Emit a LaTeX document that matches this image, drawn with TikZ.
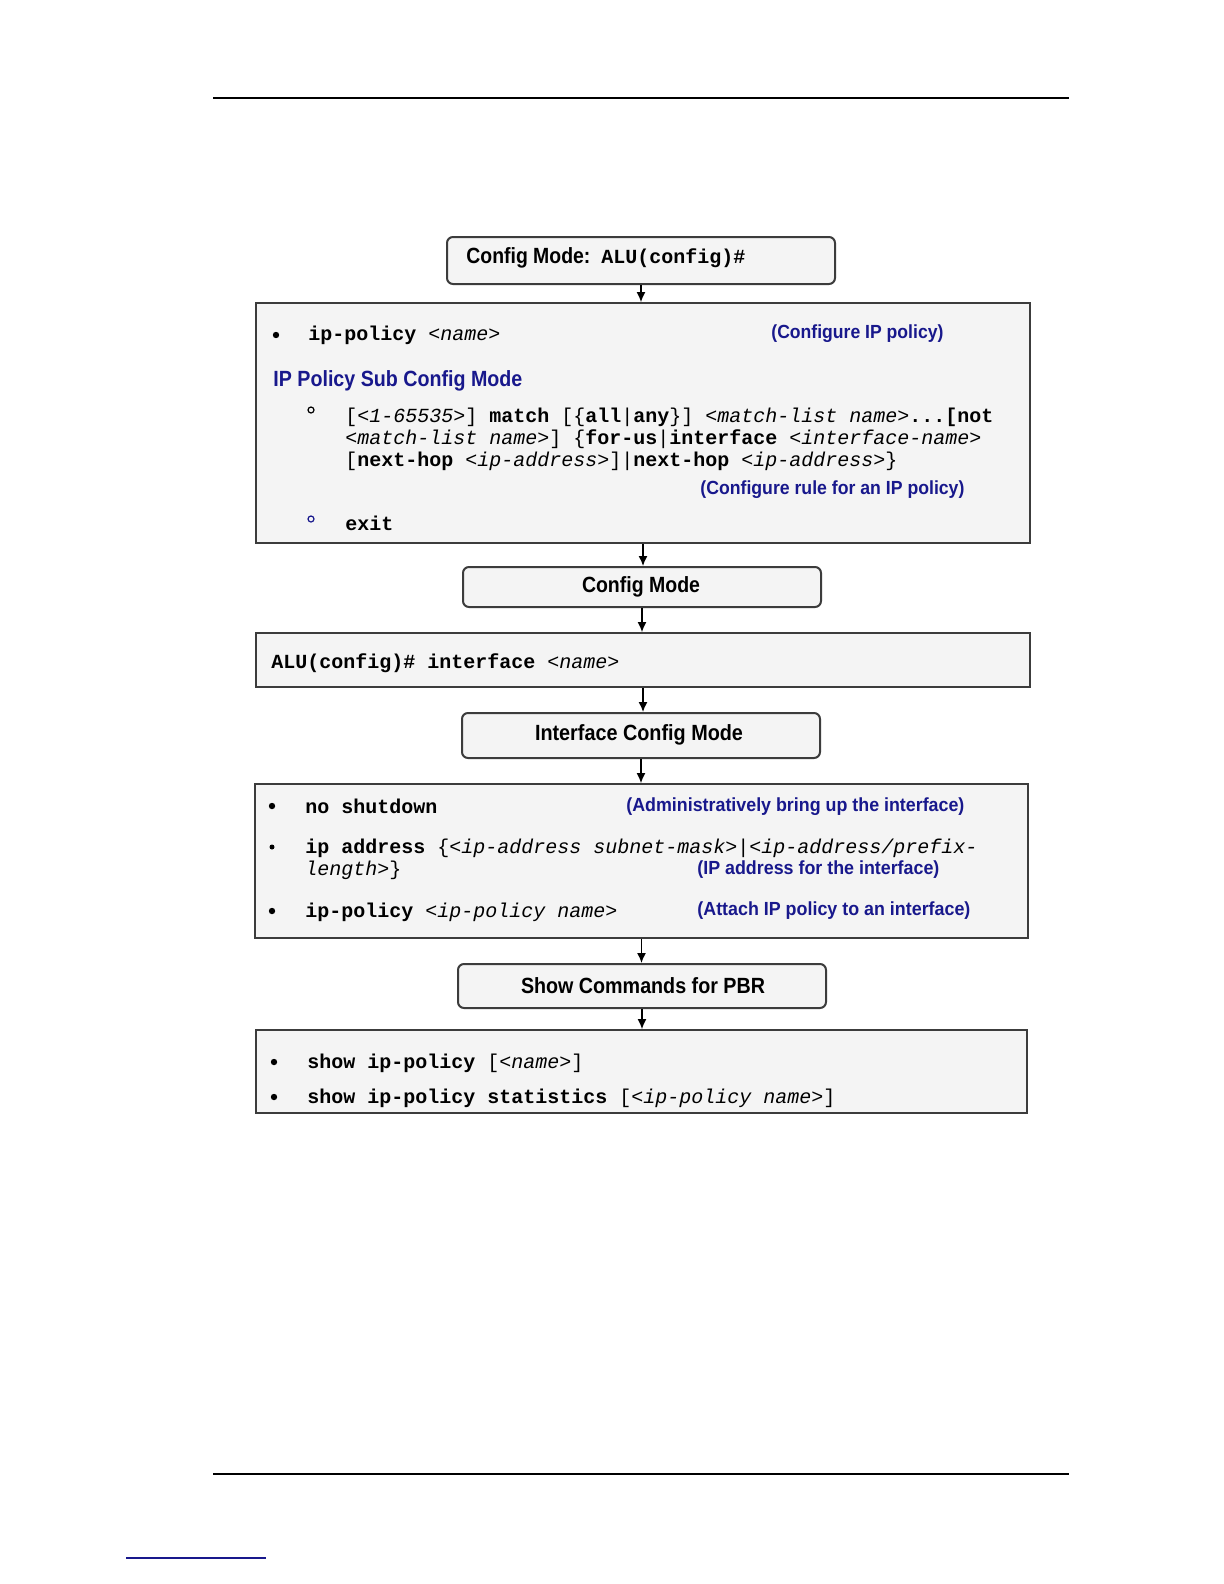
\documentclass[tikz,border=0pt]{standalone}
\usepackage{fontspec}
\usepackage{graphicx}
\setmainfont{Liberation Sans}
\setmonofont{Liberation Mono}
\usetikzlibrary{arrows.meta}
\definecolor{annot}{RGB}{24,24,140}
\definecolor{boxfill}{RGB}{244,244,244}
\definecolor{boxline}{RGB}{60,60,60}
\newcommand{\fitw}[2]{\resizebox{#1}{\height}{#2}}
\newcommand{\kw}[1]{\textbf{#1}}
\newcommand{\prm}[1]{\textit{#1}}
\tikzset{
  rbox/.style={draw=boxline, line width=1pt, fill=boxfill, rounded corners=3pt, inner sep=0pt},
  sbox/.style={draw=boxline, line width=0.9pt, fill=boxfill, inner sep=0pt},
  cmd/.style={anchor=mid west, inner sep=0pt, font=\ttfamily\fontsize{10}{12}\selectfont},
  note/.style={anchor=mid west, inner sep=0pt, text=annot, font=\bfseries\fontsize{9.5}{11}\selectfont},
  ttl/.style={inner sep=0pt, font=\bfseries\fontsize{11}{13}\selectfont},
  bul/.style={circle, fill=black, inner sep=0pt, minimum size=3.2pt},
  sbul/.style={circle, fill=black, inner sep=0pt, minimum size=2.5pt},
  ring/.style={circle, draw=black, line width=0.6pt, inner sep=0pt, minimum size=3pt},
  arr/.style={-{Latex[length=5pt,width=4.5pt]}, line width=0.7pt, black}
}
\begin{document}
\begin{tikzpicture}[x=0.5pt,y=-0.5pt]
\useasboundingbox (0,0) rectangle (1224,1584);
\fill[white] (0,0) rectangle (1224,1584);
% page rules
\coordinate (h1) at (213,98); \coordinate (h2) at (1069,98);
\draw[line width=0.8pt] (h1) -- (h2);
\coordinate (f1) at (213,1474); \coordinate (f2) at (1069,1474);
\draw[line width=0.8pt] (f1) -- (f2);
\coordinate (l1) at (126,1558); \coordinate (l2) at (266,1558);
\draw[line width=0.8pt, annot] (l1) -- (l2);

% boxes
\node[rbox, minimum width=194pt, minimum height=23.5pt] (b1) at (641,260.5) {};
\node[sbox, minimum width=387pt, minimum height=120pt] (b2) at (643,423) {};
\node[rbox, minimum width=179pt, minimum height=20pt] (b3) at (642,587) {};
\node[sbox, minimum width=387pt, minimum height=27pt] (b4) at (643,660) {};
\node[rbox, minimum width=179pt, minimum height=22.5pt] (b5) at (641,735.5) {};
\node[sbox, minimum width=386.5pt, minimum height=77pt] (b6) at (641.5,861) {};
\node[rbox, minimum width=184pt, minimum height=22pt] (b7) at (642,986) {};
\node[sbox, minimum width=385.5pt, minimum height=41.5pt] (b8) at (641.5,1071.5) {};

% arrows
\draw[arr] (b1.south) -- (b1.south |- b2.north);
\draw[arr] (b2.south) -- (b2.south |- b3.north);
\draw[arr] (b3.south) -- (b3.south |- b4.north);
\draw[arr] (b4.south) -- (b4.south |- b5.north);
\draw[arr] (b5.south) -- (b5.south |- b6.north);
\draw[arr] (b6.south) -- (b6.south |- b7.north);
\draw[arr] (b7.south) -- (b7.south |- b8.north);

% box 1 title
\node[ttl, anchor=mid west] (t1) at (466,258) {\fitw{62pt}{Config Mode:}\hspace{5.5pt}{\ttfamily\fontsize{10}{12}\selectfont\kw{ALU(config)\#}}};

% box 2
\node[bul] (p1) at (276,335) {};
\node[cmd] (c1) at (308,335) {\kw{ip-policy} \prm{<name>}};
\node[note] (n1) at (771,333) {\fitw{86pt}{(Configure IP policy)}};
\node[anchor=mid west, inner sep=0pt, text=annot, font=\bfseries\fontsize{11}{13}\selectfont] (s1) at (273,381) {\fitw{124.5pt}{IP Policy Sub Config Mode}};
\node[ring] (r1) at (311,410) {};
\node[cmd] (c2) at (345,417) {[\prm{<1-65535>}] \kw{match} [\{\kw{all}|\kw{any}\}] \prm{<match-list name>}\kw{...[not}};
\node[cmd] (c3) at (345,439) {\prm{<match-list name>}] \{\kw{for-us}|\kw{interface} \prm{<interface-name>}};
\node[cmd] (c4) at (345,461) {[\kw{next-hop} \prm{<ip-address>}]|\kw{next-hop} \prm{<ip-address>}\}};
\node[note] (n2) at (700,489) {\fitw{132pt}{(Configure rule for an IP policy)}};
\node[ring, draw=annot] (r2) at (311,519) {};
\node[cmd] (c5) at (345,525) {\kw{exit}};

% box 3
\node[ttl] (t3) at (641,587) {\fitw{59pt}{Config Mode}};

% box 4
\node[cmd] (c6) at (271,663) {\kw{ALU(config)\# interface} \prm{<name>}};

% box 5
\node[ttl] (t5) at (639,735) {\fitw{104pt}{Interface Config Mode}};

% box 6
\node[bul] (p2) at (272,806) {};
\node[cmd] (c7) at (305,808) {\kw{no shutdown}};
\node[note] (n3) at (626,806) {\fitw{169pt}{(Administratively bring up the interface)}};
\node[sbul] (p3) at (272,847) {};
\node[cmd] (c8) at (305,848) {\kw{ip address} \{\prm{<ip-address subnet-mask>}|\prm{<ip-address/prefix-}};
\node[cmd] (c9) at (305,870) {\prm{length>}\}};
\node[note] (n4) at (697,869) {\fitw{121pt}{(IP address for the interface)}};
\node[bul] (p4) at (272,911) {};
\node[cmd] (c10) at (305,912) {\kw{ip-policy} \prm{<ip-policy name>}};
\node[note] (n5) at (697,910) {\fitw{136.5pt}{(Attach IP policy to an interface)}};

% box 7
\node[ttl] (t7) at (643,986) {\fitw{122pt}{Show Commands for PBR}};

% box 8
\node[bul] (p5) at (274,1062) {};
\node[cmd] (c11) at (307,1063) {\kw{show ip-policy} [\prm{<name>}]};
\node[bul] (p6) at (274,1097) {};
\node[cmd] (c12) at (307,1098) {\kw{show ip-policy statistics} [\prm{<ip-policy name>}]};
\end{tikzpicture}
\end{document}
